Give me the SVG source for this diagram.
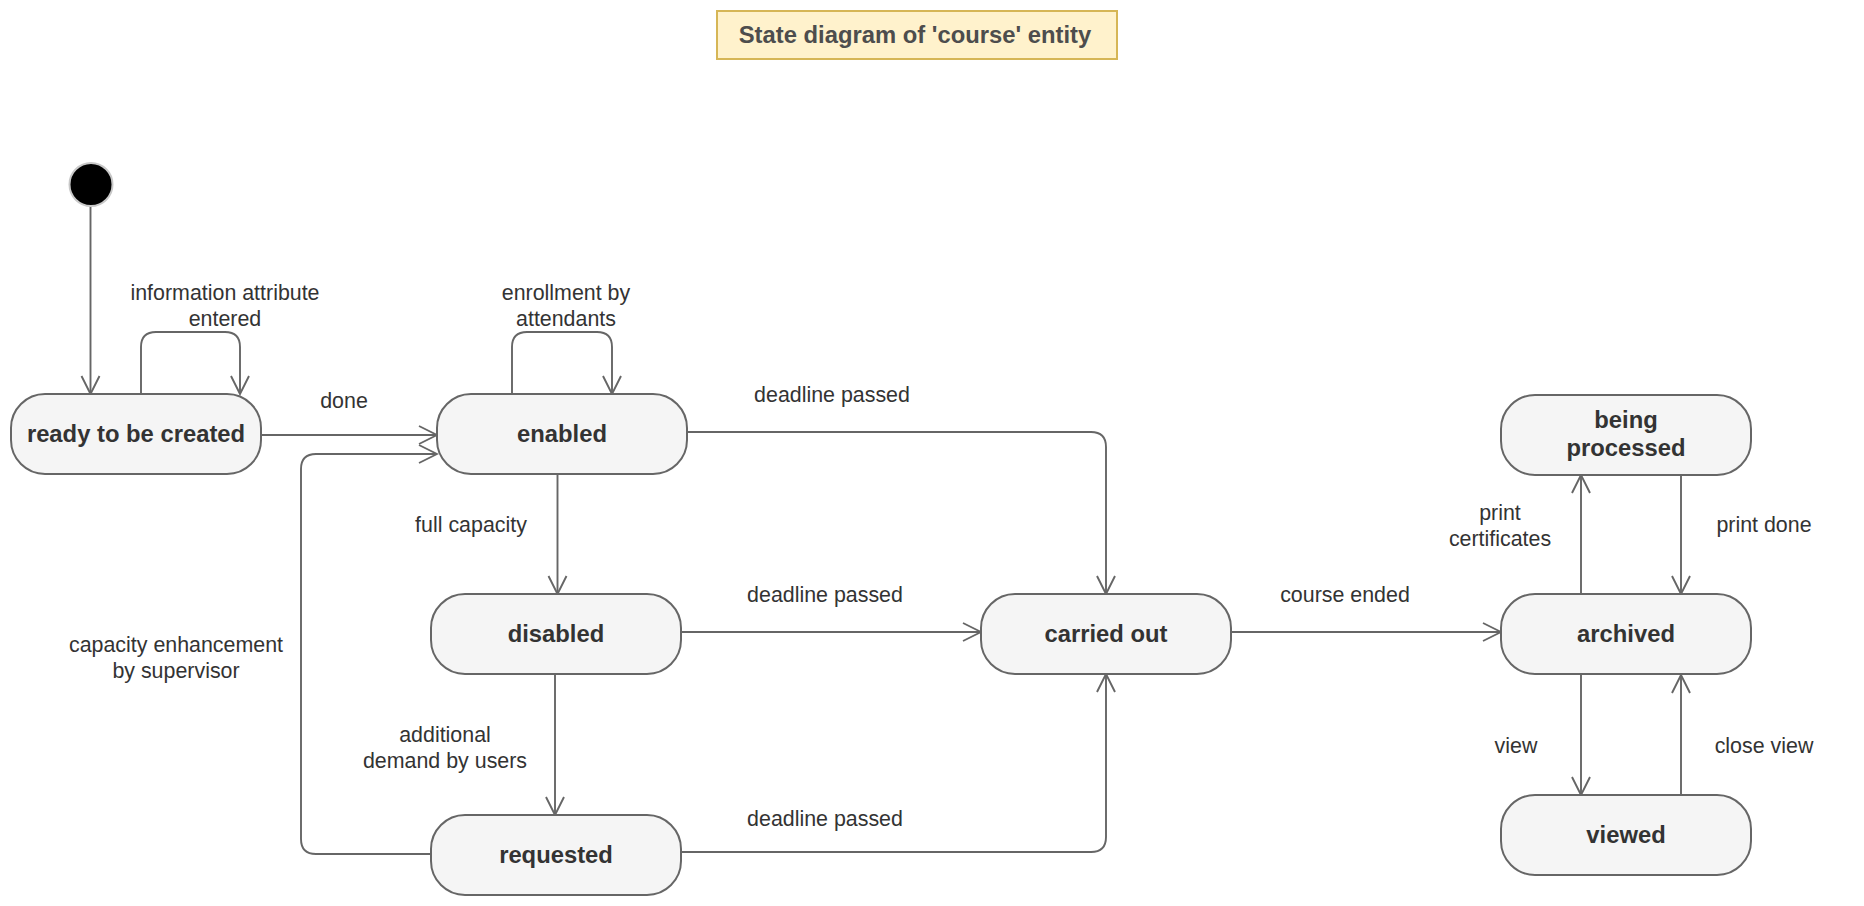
<svg xmlns="http://www.w3.org/2000/svg" width="1864" height="906" viewBox="0 0 1864 906">
<defs>
<style>
.node rect{fill:#f5f5f5;stroke:#666666;stroke-width:2}
.node text{font-family:"Liberation Sans",Arial,sans-serif;font-weight:bold;font-size:23.8px;fill:#333333;text-anchor:middle}
.edge{fill:none;stroke:#666666;stroke-width:1.9;marker-end:url(#arr)}
.lbl{font-family:"Liberation Sans",Arial,sans-serif;font-size:21.4px;fill:#333333;text-anchor:middle}
</style>
<marker id="arr" viewBox="0 0 22 22" refX="20" refY="11" markerWidth="22" markerHeight="22" orient="auto" markerUnits="userSpaceOnUse">
<path d="M2,2 L20,11 L2,20" fill="none" stroke="#666666" stroke-width="1.9"/>
</marker>
</defs>
<rect width="1864" height="906" fill="#ffffff"/>

<g id="title">
<rect x="717" y="11" width="400" height="48" fill="#fff2cc" stroke="#d6b656" stroke-width="2"/>
<text x="915" y="43" font-family="Liberation Sans,Arial,sans-serif" font-weight="bold" font-size="23.8" fill="#4d4d4d" text-anchor="middle">State diagram of 'course' entity</text>
</g>

<g id="connectors">
<path class="edge" d="M90.5,206 L90.5,394"/>
<path class="edge" d="M141,394 L141,347 Q141,332 156,332 L225,332 Q240,332 240,347 L240,394"/>
<path class="edge" d="M261,435 L437,435"/>
<path class="edge" d="M431,854 L316,854 Q301,854 301,839 L301,469 Q301,454 316,454 L437,454"/>
<path class="edge" d="M512,394 L512,347 Q512,332 527,332 L597,332 Q612,332 612,347 L612,394"/>
<path class="edge" d="M687,432 L1091,432 Q1106,432 1106,447 L1106,594"/>
<path class="edge" d="M557.5,474 L557.5,594"/>
<path class="edge" d="M555,675 L555,815"/>
<path class="edge" d="M681,632 L981,632"/>
<path class="edge" d="M681,852 L1091,852 Q1106,852 1106,837 L1106,674"/>
<path class="edge" d="M1231,632 L1501,632"/>
<path class="edge" d="M1581,594 L1581,475"/>
<path class="edge" d="M1681,475 L1681,594"/>
<path class="edge" d="M1581,675 L1581,795"/>
<path class="edge" d="M1681,795 L1681,675"/>
<text class="lbl" x="225" y="300">information attribute</text>
<text class="lbl" x="225" y="326">entered</text>
<text class="lbl" x="344" y="408">done</text>
<text class="lbl" x="566" y="300">enrollment by</text>
<text class="lbl" x="566" y="326">attendants</text>
<text class="lbl" x="832" y="402">deadline passed</text>
<text class="lbl" x="471" y="532">full capacity</text>
<text class="lbl" x="825" y="602">deadline passed</text>
<text class="lbl" x="176" y="652">capacity enhancement</text>
<text class="lbl" x="176" y="678">by supervisor</text>
<text class="lbl" x="445" y="742">additional</text>
<text class="lbl" x="445" y="768">demand by users</text>
<text class="lbl" x="825" y="826">deadline passed</text>
<text class="lbl" x="1345" y="602">course ended</text>
<text class="lbl" x="1500" y="520">print</text>
<text class="lbl" x="1500" y="546">certificates</text>
<text class="lbl" x="1764" y="532">print done</text>
<text class="lbl" x="1516" y="753">view</text>
<text class="lbl" x="1764" y="753">close view</text>
</g>

<g id="initial">
<circle cx="91" cy="184.5" r="21.5" fill="#000000" stroke="#c8c8c8" stroke-width="2"/>
</g>
<g id="ready" class="node">
<rect x="11" y="394" width="250" height="80" rx="34" ry="34"/>
<text x="136" y="442">ready to be created</text>
</g>
<g id="enabled" class="node">
<rect x="437" y="394" width="250" height="80" rx="34" ry="34"/>
<text x="562" y="442">enabled</text>
</g>
<g id="disabled" class="node">
<rect x="431" y="594" width="250" height="80" rx="34" ry="34"/>
<text x="556" y="642">disabled</text>
</g>
<g id="requested" class="node">
<rect x="431" y="815" width="250" height="80" rx="34" ry="34"/>
<text x="556" y="863">requested</text>
</g>
<g id="carried_out" class="node">
<rect x="981" y="594" width="250" height="80" rx="34" ry="34"/>
<text x="1106" y="642">carried out</text>
</g>
<g id="being_processed" class="node">
<rect x="1501" y="395" width="250" height="80" rx="34" ry="34"/>
<text x="1626" y="428">being</text>
<text x="1626" y="456">processed</text>
</g>
<g id="archived" class="node">
<rect x="1501" y="594" width="250" height="80" rx="34" ry="34"/>
<text x="1626" y="642">archived</text>
</g>
<g id="viewed" class="node">
<rect x="1501" y="795" width="250" height="80" rx="34" ry="34"/>
<text x="1626" y="843">viewed</text>
</g>
</svg>
